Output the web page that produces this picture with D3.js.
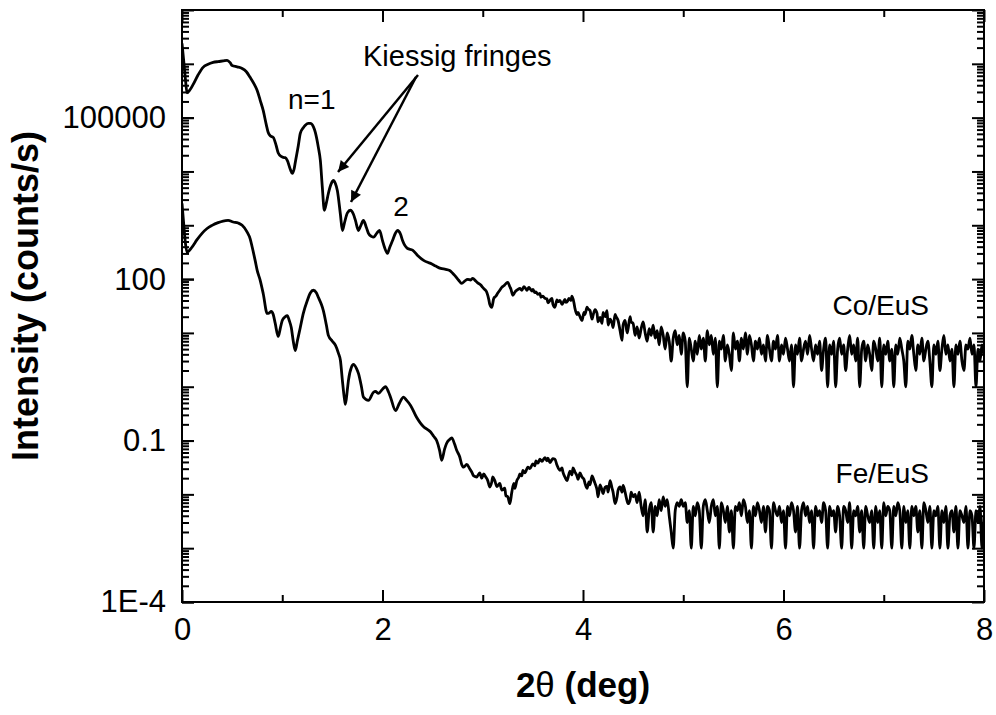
<!DOCTYPE html>
<html>
<head>
<meta charset="utf-8">
<script src="https://cdn.jsdelivr.net/npm/d3@7"></script>
<style>
  body { margin: 0; background: #fff; }
  text { font-family: "Liberation Sans", Arial, sans-serif; }
</style>
</head>
<body>
<div id="chart"></div>
<script>
// Co/EuS reflectivity curve: [2theta (deg), intensity (counts/s)]
const coEuS = [
  [0.00, 2.4e6], [0.02, 1.0e6], [0.035, 5.0e5], [0.05, 2.9e5], [0.08, 3.3e5], [0.11, 4.1e5],
  [0.16, 6.2e5], [0.21, 8.6e5], [0.26, 9.8e5], [0.31, 1.06e6], [0.36, 1.1e6], [0.41, 1.13e6],
  [0.45, 1.16e6], [0.48, 1.05e6], [0.50, 9.3e5], [0.55, 8.8e5], [0.60, 8.2e5], [0.64, 7.2e5],
  [0.68, 5.6e5], [0.72, 4.2e5], [0.75, 3.2e5], [0.78, 2.1e5], [0.81, 1.36e5], [0.84, 7.5e4],
  [0.86, 5.3e4], [0.88, 4.6e4], [0.91, 4.3e4], [0.94, 3.0e4], [0.96, 2.2e4], [0.99, 1.9e4],
  [1.01, 1.82e4], [1.03, 1.8e4], [1.05, 1.6e4], [1.08, 1.1e4], [1.10, 9.2e3], [1.12, 1.15e4],
  [1.13, 1.47e4], [1.16, 3.0e4], [1.18, 5.1e4], [1.21, 6.5e4], [1.23, 7.2e4], [1.26, 7.8e4],
  [1.28, 7.8e4], [1.31, 6.8e4], [1.33, 5.3e4], [1.36, 2.8e4], [1.38, 1.6e4], [1.40, 5.0e3],
  [1.42, 1.9e3], [1.44, 2.6e3], [1.46, 3.9e3], [1.49, 6.0e3], [1.51, 6.8e3], [1.53, 6.0e3],
  [1.55, 4.4e3], [1.58, 1.6e3], [1.60, 800], [1.62, 1.1e3], [1.65, 1.7e3], [1.68, 1.9e3],
  [1.71, 1.6e3], [1.73, 1.23e3], [1.76, 800], [1.78, 950], [1.81, 1.23e3], [1.84, 900],
  [1.86, 710], [1.89, 620], [1.91, 600], [1.94, 700], [1.97, 800], [2.00, 520], [2.02, 390],
  [2.05, 300], [2.07, 380], [2.10, 520], [2.13, 720], [2.15, 800], [2.18, 680], [2.20, 520],
  [2.25, 370], [2.30, 345], [2.35, 275], [2.41, 223], [2.45, 205], [2.48, 196], [2.53, 175],
  [2.58, 158], [2.63, 152], [2.67, 145], [2.70, 128], [2.72, 117], [2.76, 95], [2.79, 83],
  [2.82, 92], [2.85, 99], [2.88, 96], [2.90, 103], [2.93, 92], [2.95, 85], [2.98, 78],
  [3.00, 70], [3.02, 64], [3.04, 57], [3.06, 42], [3.07, 34], [3.09, 30], [3.11, 44],
  [3.13, 48], [3.15, 55], [3.17, 62], [3.19, 70], [3.21, 75], [3.23, 82], [3.25, 87],
  [3.27, 72], [3.28, 66], [3.30, 50], [3.32, 57], [3.33, 60], [3.35, 64], [3.37, 67],
  [3.39, 62], [3.41, 72], [3.43, 66], [3.44, 62], [3.46, 70], [3.47, 67], [3.49, 60],
  [3.50, 64], [3.52, 56], [3.53, 58], [3.55, 52], [3.57, 54], [3.58, 46], [3.60, 48],
  [3.62, 44], [3.64, 43], [3.65, 36], [3.67, 40], [3.69, 44], [3.70, 34], [3.72, 30],
  [3.74, 41], [3.75, 38], [3.77, 40], [3.79, 34], [3.80, 36], [3.82, 42], [3.83, 37],
  [3.85, 40], [3.86, 44], [3.88, 40], [3.89, 48], [3.91, 36], [3.92, 28.5], [3.94, 22],
  [3.95, 24], [3.97, 20], [3.99, 17], [4.01, 24], [4.02, 22], [4.04, 30], [4.05, 28],
  [4.07, 26], [4.09, 18], [4.10, 21], [4.12, 27], [4.14, 23], [4.15, 16], [4.17, 19.4],
  [4.19, 15], [4.20, 24], [4.22, 20], [4.24, 26], [4.25, 14], [4.27, 18], [4.29, 15],
  [4.30, 12.6], [4.32, 22], [4.33, 20], [4.35, 17], [4.37, 11], [4.39, 7.3], [4.40, 14],
  [4.42, 17], [4.44, 10], [4.45, 12], [4.47, 20], [4.48, 16],
  [4.50, 15], [4.52, 9], [4.54, 13], [4.56, 8], [4.58, 12], [4.60, 16], [4.62, 10], [4.64, 7],
  [4.66, 12], [4.68, 9], [4.70, 14], [4.72, 8], [4.74, 11], [4.76, 6], [4.78, 13], [4.80, 9],
  [4.82, 5], [4.84, 10], [4.86, 7], [4.88, 3], [4.90, 8], [4.92, 11], [4.94, 6], [4.96, 9],
  [4.98, 4], [5.00, 10], [5.02, 7], [5.04, 1], [5.06, 8], [5.08, 5], [5.10, 3], [5.12, 7],
  [5.14, 4], [5.16, 9], [5.18, 5], [5.20, 8], [5.22, 3], [5.24, 11], [5.26, 6], [5.28, 9],
  [5.30, 4], [5.32, 8], [5.34, 1], [5.36, 7], [5.38, 5], [5.40, 9], [5.42, 3], [5.44, 6],
  [5.46, 4], [5.48, 2], [5.50, 10], [5.52, 5], [5.54, 7], [5.56, 3], [5.58, 8], [5.60, 5],
  [5.62, 10], [5.64, 4], [5.66, 9], [5.68, 6], [5.70, 3], [5.72, 7], [5.74, 5], [5.76, 8],
  [5.78, 4], [5.80, 6], [5.82, 3], [5.84, 9], [5.86, 5], [5.88, 3], [5.90, 7], [5.92, 5],
  [5.94, 9], [5.96, 3], [5.98, 6], [6.00, 4], [6.02, 8], [6.04, 5], [6.06, 3], [6.08, 6],
  [6.10, 1], [6.12, 6], [6.14, 4], [6.16, 8], [6.18, 3], [6.20, 5], [6.22, 7], [6.24, 4],
  [6.26, 9], [6.28, 5], [6.30, 3], [6.32, 6], [6.34, 4], [6.36, 7], [6.38, 2], [6.40, 5],
  [6.42, 8], [6.44, 1], [6.46, 6], [6.48, 4], [6.50, 7], [6.52, 1], [6.54, 5], [6.56, 8],
  [6.58, 4], [6.60, 6], [6.62, 2], [6.64, 5], [6.66, 9], [6.68, 4], [6.70, 6], [6.72, 3],
  [6.74, 8], [6.76, 1], [6.78, 5], [6.80, 7], [6.82, 3], [6.84, 6], [6.86, 4], [6.88, 2],
  [6.90, 7], [6.92, 5], [6.94, 3], [6.96, 8], [6.98, 1], [7.00, 6], [7.02, 4], [7.04, 7],
  [7.06, 3], [7.08, 5], [7.10, 1], [7.12, 6], [7.14, 4], [7.16, 8], [7.18, 5], [7.20, 3],
  [7.22, 1], [7.24, 7], [7.26, 5], [7.28, 9], [7.30, 4], [7.32, 2], [7.34, 6], [7.36, 4],
  [7.38, 8], [7.40, 3], [7.42, 5], [7.44, 7], [7.46, 3], [7.48, 1], [7.50, 6], [7.52, 4],
  [7.54, 7], [7.56, 2], [7.58, 5], [7.60, 9], [7.62, 4], [7.64, 6], [7.66, 3], [7.68, 5],
  [7.70, 1], [7.72, 6], [7.74, 4], [7.76, 7], [7.78, 3], [7.80, 2], [7.82, 6], [7.84, 5],
  [7.86, 8], [7.88, 4], [7.90, 6], [7.92, 1], [7.94, 5], [7.96, 3], [7.98, 6], [8.00, 4]
];

// Fe/EuS reflectivity curve: [2theta (deg), intensity (counts/s)]
const feEuS = [
  [0.00, 2.55e3], [0.02, 900], [0.035, 450], [0.05, 318], [0.10, 394], [0.15, 540], [0.20, 708],
  [0.25, 870], [0.30, 995], [0.36, 1.12e3], [0.41, 1.2e3], [0.46, 1.23e3], [0.51, 1.15e3],
  [0.56, 1.1e3], [0.60, 1.0e3], [0.65, 748], [0.68, 560], [0.70, 394], [0.73, 220], [0.75, 145],
  [0.78, 95], [0.81, 54], [0.85, 23], [0.87, 23.5], [0.89, 25], [0.91, 22], [0.93, 15],
  [0.96, 8.6], [0.98, 12], [1.00, 17], [1.03, 20], [1.05, 21], [1.07, 17], [1.09, 12.6],
  [1.11, 7], [1.13, 4.7], [1.15, 7], [1.18, 12.6], [1.21, 23], [1.25, 40], [1.28, 55],
  [1.31, 62], [1.34, 56], [1.36, 46], [1.39, 34], [1.41, 26], [1.44, 14], [1.46, 9],
  [1.50, 7], [1.53, 5.9], [1.56, 4.2], [1.58, 3.1], [1.60, 1.3], [1.62, 0.6], [1.63, 0.47],
  [1.65, 0.9], [1.66, 1.3], [1.69, 2.3], [1.71, 2.6], [1.74, 2.2], [1.76, 1.77], [1.79, 1.0],
  [1.81, 0.64], [1.86, 0.56], [1.91, 0.79], [1.93, 0.82], [1.96, 0.75], [2.00, 0.9], [2.03, 1.0],
  [2.06, 0.8], [2.08, 0.64], [2.13, 0.36], [2.17, 0.5], [2.21, 0.64], [2.24, 0.56], [2.28, 0.45],
  [2.34, 0.27], [2.41, 0.18], [2.45, 0.16], [2.48, 0.144], [2.51, 0.12], [2.54, 0.10],
  [2.57, 0.065], [2.59, 0.043], [2.62, 0.07], [2.64, 0.089], [2.67, 0.105], [2.69, 0.112],
  [2.72, 0.085], [2.74, 0.066], [2.77, 0.05], [2.79, 0.036], [2.81, 0.032], [2.84, 0.036],
  [2.87, 0.030], [2.89, 0.026], [2.91, 0.022], [2.94, 0.021], [2.97, 0.025], [2.99, 0.020],
  [3.01, 0.024], [3.03, 0.021], [3.05, 0.018], [3.07, 0.0137], [3.09, 0.017], [3.10, 0.021],
  [3.12, 0.018], [3.14, 0.014], [3.17, 0.016], [3.19, 0.012], [3.22, 0.013], [3.23, 0.0095],
  [3.25, 0.009], [3.27, 0.0067], [3.29, 0.011], [3.31, 0.016], [3.32, 0.013], [3.34, 0.018],
  [3.36, 0.021], [3.37, 0.024], [3.39, 0.022], [3.40, 0.028], [3.42, 0.025], [3.45, 0.032],
  [3.47, 0.030], [3.50, 0.037], [3.52, 0.034], [3.53, 0.042], [3.55, 0.038], [3.57, 0.045],
  [3.59, 0.041], [3.62, 0.048], [3.64, 0.042], [3.65, 0.047], [3.67, 0.039], [3.69, 0.044],
  [3.70, 0.046], [3.72, 0.045], [3.74, 0.035], [3.77, 0.028], [3.79, 0.031], [3.80, 0.026],
  [3.82, 0.021], [3.84, 0.018], [3.86, 0.024], [3.87, 0.027], [3.89, 0.023], [3.90, 0.031],
  [3.92, 0.026], [3.94, 0.022], [3.95, 0.019], [3.97, 0.025], [3.99, 0.021], [4.01, 0.019],
  [4.02, 0.016], [4.04, 0.013], [4.06, 0.017], [4.07, 0.015], [4.09, 0.022], [4.11, 0.018],
  [4.12, 0.016], [4.14, 0.012], [4.15, 0.009], [4.17, 0.015], [4.19, 0.012], [4.20, 0.0103],
  [4.22, 0.0135], [4.24, 0.014], [4.25, 0.011], [4.27, 0.018], [4.29, 0.013], [4.30, 0.011],
  [4.32, 0.0067], [4.34, 0.009], [4.35, 0.012], [4.37, 0.0137], [4.39, 0.011], [4.40, 0.0147],
  [4.42, 0.011], [4.43, 0.009], [4.45, 0.0067], [4.47, 0.008], [4.48, 0.011],
  [4.50, 0.009], [4.52, 0.010], [4.54, 0.007], [4.56, 0.011], [4.58, 0.006], [4.60, 0.004],
  [4.62, 0.008], [4.64, 0.002], [4.66, 0.005], [4.68, 0.007], [4.70, 0.002], [4.72, 0.006],
  [4.74, 0.004], [4.76, 0.008], [4.78, 0.005], [4.80, 0.009], [4.82, 0.006], [4.84, 0.008],
  [4.86, 0.004], [4.88, 0.002], [4.90, 0.001], [4.92, 0.005], [4.94, 0.007], [4.96, 0.006],
  [4.98, 0.008], [5.00, 0.006], [5.02, 0.007], [5.04, 0.003], [5.06, 0.005], [5.08, 0.001],
  [5.10, 0.006], [5.12, 0.004], [5.14, 0.007], [5.16, 0.005], [5.18, 0.001], [5.20, 0.006],
  [5.22, 0.008], [5.24, 0.005], [5.26, 0.003], [5.28, 0.006], [5.30, 0.008], [5.32, 0.004],
  [5.34, 0.006], [5.36, 0.001], [5.38, 0.007], [5.40, 0.005], [5.42, 0.003], [5.44, 0.006],
  [5.46, 0.002], [5.48, 0.005], [5.50, 0.001], [5.52, 0.006], [5.54, 0.005], [5.56, 0.007],
  [5.58, 0.004], [5.60, 0.008], [5.62, 0.006], [5.64, 0.003], [5.66, 0.005], [5.68, 0.001],
  [5.70, 0.006], [5.72, 0.004], [5.74, 0.007], [5.76, 0.005], [5.78, 0.003], [5.80, 0.006],
  [5.82, 0.002], [5.84, 0.006], [5.86, 0.005], [5.88, 0.001], [5.90, 0.007], [5.92, 0.005],
  [5.94, 0.004], [5.96, 0.006], [5.98, 0.003], [6.00, 0.005], [6.02, 0.001], [6.04, 0.006],
  [6.06, 0.004], [6.08, 0.007], [6.10, 0.005], [6.12, 0.002], [6.14, 0.006], [6.16, 0.001],
  [6.18, 0.005], [6.20, 0.007], [6.22, 0.004], [6.24, 0.006], [6.26, 0.003], [6.28, 0.005],
  [6.30, 0.001], [6.32, 0.006], [6.34, 0.004], [6.36, 0.005], [6.38, 0.003], [6.40, 0.007],
  [6.42, 0.005], [6.44, 0.001], [6.46, 0.006], [6.48, 0.004], [6.50, 0.005], [6.52, 0.002],
  [6.54, 0.006], [6.56, 0.004], [6.58, 0.001], [6.60, 0.006], [6.62, 0.005], [6.64, 0.003],
  [6.66, 0.007], [6.68, 0.001], [6.70, 0.005], [6.72, 0.004], [6.74, 0.006], [6.76, 0.002],
  [6.78, 0.005], [6.80, 0.001], [6.82, 0.006], [6.84, 0.004], [6.86, 0.003], [6.88, 0.005],
  [6.90, 0.001], [6.92, 0.006], [6.94, 0.003], [6.96, 0.005], [6.98, 0.001], [7.00, 0.007],
  [7.02, 0.004], [7.04, 0.006], [7.06, 0.005], [7.08, 0.001], [7.10, 0.006], [7.12, 0.004],
  [7.14, 0.007], [7.16, 0.005], [7.18, 0.001], [7.20, 0.006], [7.22, 0.003], [7.24, 0.005],
  [7.26, 0.001], [7.28, 0.006], [7.30, 0.004], [7.32, 0.006], [7.34, 0.002], [7.36, 0.005],
  [7.38, 0.001], [7.40, 0.007], [7.42, 0.005], [7.44, 0.003], [7.46, 0.006], [7.48, 0.001],
  [7.50, 0.005], [7.52, 0.004], [7.54, 0.006], [7.56, 0.001], [7.58, 0.005], [7.60, 0.003],
  [7.62, 0.006], [7.64, 0.001], [7.66, 0.004], [7.68, 0.005], [7.70, 0.002], [7.72, 0.006],
  [7.74, 0.001], [7.76, 0.005], [7.78, 0.004], [7.80, 0.003], [7.82, 0.006], [7.84, 0.001],
  [7.86, 0.005], [7.88, 0.004], [7.90, 0.001], [7.92, 0.005], [7.94, 0.003], [7.96, 0.006],
  [7.98, 0.001], [8.00, 0.004]
];

// axis ticks
const xMajorTicks = [0, 2, 4, 6, 8];
const xMinorTicks = [1, 3, 5, 7];
const yLabelTicks = [1e-4, 0.1, 100, 100000];
const yTickLabels = ["1E-4", "0.1", "100", "100000"];
const yDecades = [1e-4, 1e-3, 1e-2, 1e-1, 1, 10, 100, 1e3, 1e4, 1e5, 1e6, 1e7];

const margin = {top: 10, right: 12, bottom: 113, left: 182},
      width = 996 - margin.left - margin.right,
      height = 715 - margin.top - margin.bottom;

const root = d3.select("#chart")
  .append("svg")
    .attr("width", 996)
    .attr("height", 715);

const svg = root.append("g")
    .attr("transform", `translate(${margin.left},${margin.top})`);

const x = d3.scaleLinear().domain([0, 8]).range([0, width]);
const y = d3.scaleLog().domain([1e-4, 1e7]).range([height, 0]);

// minor log ticks 2..9 in every decade
const yMinorTicks = [];
yDecades.slice(0, -1).forEach(d => {
  for (let m = 2; m <= 9; m++) yMinorTicks.push(d * m);
});

function styleAxis(g, w) {
  g.select(".domain").remove();
  g.selectAll(".tick line").attr("stroke", "#000").attr("stroke-width", w);
  g.selectAll("text").attr("fill", "#000").style("font-size", "31px")
    .style("font-family", '"Liberation Sans", Arial, sans-serif');
}

// bottom
svg.append("g")
    .attr("transform", `translate(0,${height})`)
    .call(d3.axisBottom(x).tickValues(xMajorTicks).tickSizeInner(-12).tickSizeOuter(0)
      .tickPadding(16).tickFormat(d3.format("d")))
    .call(g => styleAxis(g, 2));
svg.append("g")
    .attr("transform", `translate(0,${height})`)
    .call(d3.axisBottom(x).tickValues(xMinorTicks).tickSizeInner(-7).tickSizeOuter(0).tickFormat(""))
    .call(g => styleAxis(g, 2));

// top
svg.append("g")
    .call(d3.axisTop(x).tickValues(xMajorTicks).tickSizeInner(-12).tickSizeOuter(0).tickFormat(""))
    .call(g => styleAxis(g, 2));
svg.append("g")
    .call(d3.axisTop(x).tickValues(xMinorTicks).tickSizeInner(-7).tickSizeOuter(0).tickFormat(""))
    .call(g => styleAxis(g, 2));

// left
svg.append("g")
    .call(d3.axisLeft(y).tickValues(yLabelTicks).tickSizeInner(-12).tickSizeOuter(0)
      .tickPadding(16).tickFormat((d, i) => yTickLabels[i]))
    .call(g => styleAxis(g, 2));
svg.append("g")
    .call(d3.axisLeft(y).tickValues(yDecades).tickSizeInner(-12).tickSizeOuter(0).tickFormat(""))
    .call(g => styleAxis(g, 2));
svg.append("g")
    .call(d3.axisLeft(y).tickValues(yMinorTicks).tickSizeInner(-7).tickSizeOuter(0).tickFormat(""))
    .call(g => styleAxis(g, 2));

// right
svg.append("g")
    .attr("transform", `translate(${width},0)`)
    .call(d3.axisRight(y).tickValues(yDecades).tickSizeInner(-12).tickSizeOuter(0).tickFormat(""))
    .call(g => styleAxis(g, 2));
svg.append("g")
    .attr("transform", `translate(${width},0)`)
    .call(d3.axisRight(y).tickValues(yMinorTicks).tickSizeInner(-7).tickSizeOuter(0).tickFormat(""))
    .call(g => styleAxis(g, 2));

// frame
svg.append("rect")
    .attr("width", width)
    .attr("height", height)
    .attr("fill", "none")
    .attr("stroke", "#000")
    .attr("stroke-width", 2);

svg.append("clipPath").attr("id", "clip")
  .append("rect").attr("width", width).attr("height", height);

const line = d3.line()
    .x(d => x(d[0]))
    .y(d => y(d[1]))
    .curve(d3.curveMonotoneX);

[coEuS, feEuS].forEach(series => {
  svg.append("path")
      .datum(series)
      .attr("clip-path", "url(#clip)")
      .attr("fill", "none")
      .attr("stroke", "#000")
      .attr("stroke-width", 2.8)
      .attr("stroke-linejoin", "round")
      .attr("d", line);
});

// axis titles
root.append("text")
    .attr("transform", "translate(38,296) rotate(-90)")
    .attr("text-anchor", "middle")
    .style("font-size", "36px")
    .style("font-weight", "bold")
    .text("Intensity (counts/s)");

const xt = root.append("text")
    .attr("x", 583)
    .attr("y", 697)
    .attr("text-anchor", "middle")
    .style("font-size", "35px")
    .style("font-weight", "bold");
xt.append("tspan").text("2");
xt.append("tspan").style("font-weight", "normal").text("\u03b8");
xt.append("tspan").text(" (deg)");

// annotations
const notes = root.append("g").style("font-size", "28px");
notes.append("text").attr("x", 363).attr("y", 66).style("font-size", "29px").text("Kiessig fringes");
notes.append("text").attr("x", 288).attr("y", 109).text("n=1");
notes.append("text").attr("x", 401).attr("y", 216).attr("text-anchor", "middle").text("2");
notes.append("text").attr("x", 929).attr("y", 315).attr("text-anchor", "end").text("Co/EuS");
notes.append("text").attr("x", 929).attr("y", 483).attr("text-anchor", "end").text("Fe/EuS");

root.append("defs").append("marker")
    .attr("id", "head")
    .attr("viewBox", "0 0 10 10")
    .attr("refX", 10)
    .attr("refY", 5)
    .attr("markerWidth", 18)
    .attr("markerHeight", 11)
    .attr("markerUnits", "userSpaceOnUse")
    .attr("orient", "auto")
  .append("path")
    .attr("d", "M0,0 L10,5 L0,10 z")
    .attr("fill", "#000");

[[418, 75, 338, 172], [416, 77, 351, 202]].forEach(a => {
  root.append("line")
      .attr("x1", a[0]).attr("y1", a[1])
      .attr("x2", a[2]).attr("y2", a[3])
      .attr("stroke", "#000")
      .attr("stroke-width", 2.5)
      .attr("marker-end", "url(#head)");
});
</script>
</body>
</html>
